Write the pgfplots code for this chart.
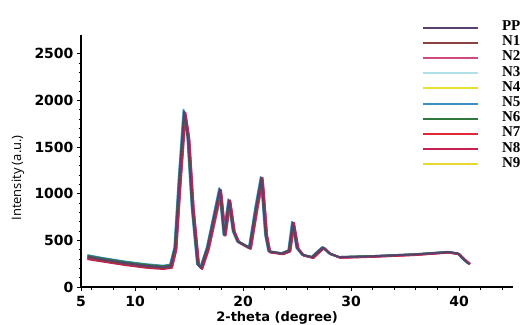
\documentclass[border=0pt]{standalone}
\usepackage{fontspec}
\usepackage{pgfplots}
\pgfplotsset{compat=1.18}
\newfontfamily\tickfont{DejaVu Sans}
\newfontfamily\labfont{Open Sans}
\newfontfamily\legfont{Liberation Serif}
\definecolor{cPP}{HTML}{5A4070}
\definecolor{cN1}{HTML}{8A4040}
\definecolor{cN2}{HTML}{D04880}
\definecolor{cN3}{HTML}{B0E0E8}
\definecolor{cN4}{HTML}{E8E030}
\definecolor{cN5}{HTML}{3A90C0}
\definecolor{cN6}{HTML}{2E7A3E}
\definecolor{cN7}{HTML}{E02838}
\definecolor{cN8}{HTML}{C82050}
\definecolor{cN9}{HTML}{E8D830}
\begin{document}
\begin{tikzpicture}
\useasboundingbox (0,0) rectangle (522pt,324pt);
\begin{axis}[
 at={(81pt,37pt)}, anchor=south west,
 scale only axis, width=432pt, height=252pt,
 xmin=5, xmax=45, ymin=0, ymax=2700,
 axis lines=left, axis line style={-, line width=1.2pt, black},
 xtick={5,10,20,30,40}, minor xtick={6,8,...,44},
 ytick={0,500,...,2500}, minor y tick num=4,
 tick align=outside, major tick length=4pt, minor tick length=2.5pt,
 tick style={black, line width=1pt},
 /pgf/number format/assume math mode=true,
 /pgf/number format/1000 sep={},
 ticklabel style={font=\tickfont\bfseries\fontsize{14}{14}\selectfont},
 xticklabel style={inner sep=1pt, yshift=-4pt},
 xlabel={2-theta (degree)},
 xlabel style={at={(axis description cs:0.454,0)}, anchor=north, yshift=-24pt, inner sep=0pt, font=\tickfont\bfseries\fontsize{13}{13}\selectfont},
 ylabel={Intensity (a.u.)},
 ylabel style={at={(axis description cs:-0.146,0.433)}, anchor=center, inner sep=0pt, font=\labfont\fontsize{13}{13}\selectfont},
 legend style={at={(axis description cs:0.789,1.06)}, anchor=north west, draw=none, fill=none, inner sep=0pt,
   font=\legfont\bfseries\fontsize{15}{15}\selectfont, row sep=0pt, column sep=23pt,
   nodes={inner sep=0pt, text height=10.5pt, text depth=4.7pt}},
 legend cell align=left,
 legend image code/.code={\draw[#1, line width=2pt] (0pt,0pt) -- (55pt,0pt);},
 every axis plot/.append style={line width=1.8pt, no markers, line join=round},
 clip=false,
]
\addlegendimage{cPP}\addlegendentry{PP}
\addlegendimage{cN1}\addlegendentry{N1}
\addlegendimage{cN2}\addlegendentry{N2}
\addlegendimage{cN3}\addlegendentry{N3}
\addlegendimage{cN4}\addlegendentry{N4}
\addlegendimage{cN5}\addlegendentry{N5}
\addlegendimage{cN6}\addlegendentry{N6}
\addlegendimage{cN7}\addlegendentry{N7}
\addlegendimage{cN8}\addlegendentry{N8}
\addlegendimage{cN9}\addlegendentry{N9}
% N3
\addplot[cN3, forget plot] coordinates {(5.6,338)(7,308)(9,271)(11,241)(12.6,225)(13.22,238)(13.62,420)(14.02,1150)(14.47,1900)(14.82,1620)(15.22,860)(15.72,250)(16.02,212)(16.62,410)(17.32,800)(17.77,1040)(18.17,555)(18.62,940)(19.02,595)(19.42,485)(20.52,412)(21.12,860)(21.62,1180)(22.02,555)(22.32,380)(23.52,362)(24.17,390)(24.52,700)(24.92,415)(25.42,345)(26.32,325)(26.92,385)(27.32,425)(27.92,360)(28.82,322)(32,332)(36,352)(39,376)(39.82,360)(40.32,300)(40.82,250)};
% N4
\addplot[cN4, forget plot] coordinates {(5.6,320)(7,290)(9,254)(11,224)(12.6,208)(13.32,220)(13.72,410)(14.12,1140)(14.57,1850)(14.92,1590)(15.32,845)(15.82,238)(16.12,203)(16.72,412)(17.42,790)(17.87,1020)(18.27,555)(18.72,910)(19.12,595)(19.52,485)(20.62,418)(21.22,840)(21.72,1150)(22.12,555)(22.42,378)(23.62,358)(24.27,388)(24.62,670)(25.02,418)(25.52,343)(26.42,320)(27.02,383)(27.42,422)(28.02,358)(28.92,320)(32,330)(36,350)(39,374)(39.92,358)(40.42,298)(40.92,252)};
% N9
\addplot[cN9, forget plot] coordinates {(5.6,320)(7,292)(9,256)(11,226)(12.6,210)(13.38,222)(13.78,415)(14.18,1120)(14.63,1830)(14.98,1560)(15.38,835)(15.88,238)(16.18,203)(16.78,412)(17.48,770)(17.93,990)(18.33,552)(18.78,890)(19.18,592)(19.58,485)(20.68,418)(21.28,825)(21.78,1130)(22.18,552)(22.48,378)(23.68,358)(24.33,386)(24.68,660)(25.08,416)(25.58,343)(26.48,320)(27.08,382)(27.48,421)(28.08,358)(28.98,320)(32,330)(36,350)(39,374)(39.98,358)(40.48,298)(40.98,250)};
% N2
\addplot[cN2, forget plot] coordinates {(5.6,310)(7,282)(9,246)(11,216)(12.6,200)(13.45,213)(13.85,405)(14.25,1120)(14.7,1840)(15.05,1570)(15.45,835)(15.95,235)(16.25,200)(16.85,405)(17.55,770)(18.0,1000)(18.4,550)(18.85,900)(19.25,590)(19.65,482)(20.75,412)(21.35,830)(21.85,1140)(22.25,550)(22.55,372)(23.75,354)(24.4,384)(24.75,665)(25.15,412)(25.65,340)(26.55,315)(27.15,380)(27.55,419)(28.15,354)(29.05,316)(32,326)(36,346)(39,370)(40.05,354)(40.55,296)(41.05,250)};
% N7
\addplot[cN7, forget plot] coordinates {(5.6,305)(7,278)(9,243)(11,213)(12.6,198)(13.4,210)(13.8,405)(14.2,1130)(14.65,1860)(15.0,1590)(15.4,845)(15.9,232)(16.2,197)(16.8,410)(17.5,790)(17.95,1030)(18.35,555)(18.8,920)(19.2,595)(19.6,482)(20.7,412)(21.3,840)(21.8,1160)(22.2,555)(22.5,372)(23.7,352)(24.35,382)(24.7,680)(25.1,412)(25.6,338)(26.5,312)(27.1,378)(27.5,418)(28.1,352)(29.0,314)(32,324)(36,344)(39,369)(40.0,352)(40.5,292)(41.0,245)};
% N8
\addplot[cN8, forget plot] coordinates {(5.6,298)(7,272)(9,236)(11,206)(12.6,192)(13.42,205)(13.82,400)(14.22,1140)(14.67,1870)(15.02,1600)(15.42,855)(15.92,228)(16.22,192)(16.82,405)(17.52,790)(17.97,1040)(18.37,555)(18.82,930)(19.22,592)(19.62,480)(20.72,410)(21.32,850)(21.82,1170)(22.22,552)(22.52,370)(23.72,350)(24.37,380)(24.72,690)(25.12,410)(25.62,336)(26.52,310)(27.12,376)(27.52,416)(28.12,350)(29.02,312)(32,322)(36,342)(39,367)(40.02,350)(40.52,290)(41.02,242)};
% N1
\addplot[cN1, forget plot] coordinates {(5.6,315)(7,285)(9,248)(11,218)(12.6,202)(13.35,215)(13.75,410)(14.15,1130)(14.6,1850)(14.95,1580)(15.35,840)(15.85,235)(16.15,200)(16.75,410)(17.45,780)(17.9,1020)(18.3,550)(18.75,900)(19.15,590)(19.55,480)(20.65,410)(21.25,830)(21.75,1150)(22.15,550)(22.45,375)(23.65,355)(24.3,385)(24.65,670)(25.05,410)(25.55,340)(26.45,315)(27.05,380)(27.45,420)(28.05,355)(28.95,318)(32,328)(36,348)(39,372)(39.95,355)(40.45,295)(40.95,245)};
% N5
\addplot[cN5, forget plot] coordinates {(5.6,342)(7,312)(9,275)(11,245)(12.6,229)(13.25,240)(13.65,425)(14.05,1170)(14.5,1900)(14.85,1620)(15.25,860)(15.75,245)(16.05,210)(16.65,425)(17.35,810)(17.8,1060)(18.2,565)(18.65,940)(19.05,605)(19.45,495)(20.55,425)(21.15,860)(21.65,1180)(22.05,565)(22.35,385)(23.55,362)(24.2,392)(24.55,700)(24.95,425)(25.45,348)(26.35,322)(26.95,388)(27.35,428)(27.95,362)(28.85,322)(32,332)(36,352)(39,378)(39.85,362)(40.35,302)(40.85,252)};
% N6
\addplot[cN6, forget plot] coordinates {(5.6,335)(7,305)(9,268)(11,238)(12.6,222)(13.28,235)(13.68,425)(14.08,1150)(14.53,1860)(14.88,1590)(15.28,850)(15.78,245)(16.08,210)(16.68,420)(17.38,790)(17.83,1030)(18.23,560)(18.68,910)(19.08,600)(19.48,495)(20.58,425)(21.18,845)(21.68,1160)(22.08,560)(22.38,385)(23.58,362)(24.23,392)(24.58,680)(24.98,420)(25.48,348)(26.38,322)(26.98,386)(27.38,426)(27.98,362)(28.88,322)(32,332)(36,352)(39,376)(39.88,360)(40.38,300)(40.88,250)};
% PP
\addplot[cPP, forget plot] coordinates {(5.6,325)(7,295)(9,258)(11,228)(12.6,212)(13.3,225)(13.7,420)(14.1,1150)(14.55,1880)(14.9,1600)(15.3,850)(15.8,240)(16.1,205)(16.7,420)(17.4,800)(17.85,1050)(18.25,560)(18.7,930)(19.1,600)(19.5,490)(20.6,420)(21.2,850)(21.7,1170)(22.1,560)(22.4,380)(23.6,360)(24.25,390)(24.6,690)(25.0,420)(25.5,345)(26.4,320)(27.0,385)(27.4,425)(28.0,360)(28.9,320)(32,330)(36,350)(39,375)(39.9,360)(40.4,300)(40.9,250)};
\end{axis}
\end{tikzpicture}
\end{document}
